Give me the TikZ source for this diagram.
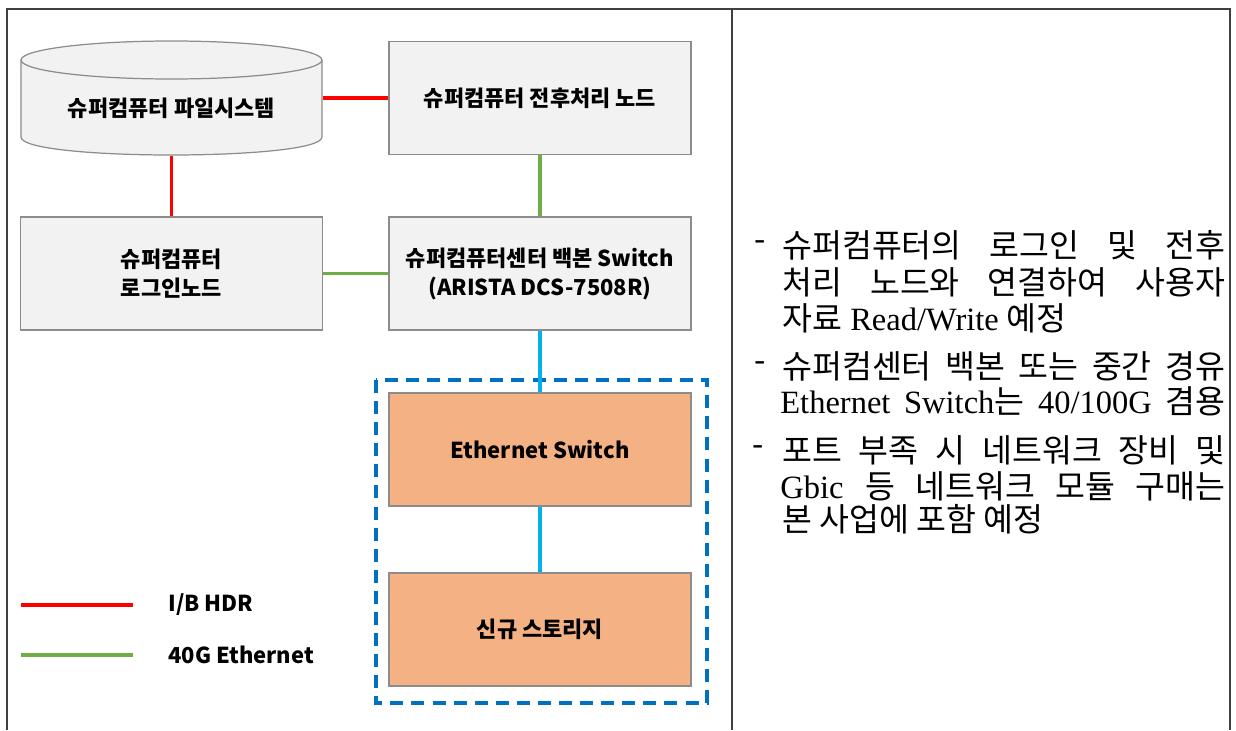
\documentclass[tikz,border=0pt]{standalone}
\usepackage{fontspec}
\setmainfont{Liberation Serif}
\newfontfamily\krsans{Noto Sans CJK KR}
\newfontfamily\krtext{Noto Sans CJK KR}
\usetikzlibrary{positioning}
\definecolor{boxgray}{HTML}{F2F2F2}
\definecolor{boxline}{HTML}{8C8C8C}
\definecolor{storeorange}{HTML}{F4B183}
\definecolor{ibred}{HTML}{FF0000}
\definecolor{ethgreen}{HTML}{70AD47}
\definecolor{linkblue}{HTML}{00B0F0}
\definecolor{groupblue}{HTML}{0070C0}
\definecolor{framegray}{HTML}{404040}
\newcommand{\kr}[1]{{\krtext #1}}
\tikzset{
  unit/.style={rectangle,draw=boxline,fill=boxgray,line width=0.7pt,minimum width=6.04cm,minimum height=2.26cm,inner sep=0pt,align=center,font=\krsans\bfseries\fontsize{12.5}{16.5}\selectfont},
  newunit/.style={unit,fill=storeorange},
  ib/.style={draw=ibred,line width=2pt},
  eth/.style={draw=ethgreen,line width=2pt},
  link/.style={draw=linkblue,line width=2pt},
  group/.style={draw=groupblue,line width=1.9pt,dash pattern=on 7.4pt off 4.6pt},
  frame/.style={draw=framegray,line width=1.1pt},
  legendtext/.style={anchor=west,inner sep=0pt,font=\krsans\bfseries\fontsize{12.5}{14}\selectfont},
  note/.style={anchor=west,inner sep=0pt,font=\fontsize{18.5}{20}\selectfont},
}

\begin{document}
\begin{tikzpicture}[x=0.02cm,y=-0.02cm]
\useasboundingbox (0,0) rectangle (1236,730);
% table frame
\draw[frame] (7,730) -- (7,9) -- (1230,9) -- (1230,730);
\draw[frame] (732,9) -- (732,730);
%
% file system drum
\fill[boxgray] (21,60) -- (21,137) .. controls (21,161) and (322,161) .. (322,137) -- (322,60) -- cycle;
\draw[boxline,line width=0.7pt] (21,60) -- (21,137) .. controls (21,161) and (322,161) .. (322,137) -- (322,60);
\draw[boxline,fill=boxgray,line width=0.7pt] (171.5,60) ellipse [x radius=150.5, y radius=19];
\node (fs) [unit,draw=none,fill=none,minimum height=1.88cm] at (171.5,108) {슈퍼컴퓨터 파일시스템};
%
\node (post) [unit] at (540,98) {슈퍼컴퓨터 전후처리 노드};
\node (login) [unit] at (171.5,273.5) {슈퍼컴퓨터\\로그인노드};
\node (backbone) [unit] at (540,273.5) {슈퍼컴퓨터센터 백본 Switch\\(ARISTA DCS-7508R)};
\node (ethsw) [newunit] at (540,449.5) {Ethernet Switch};
\node (storage) [newunit] at (540,629.5) {신규 스토리지};
\draw[group] (376,380) rectangle (707,703);
%
\path[ib] (post.west) edge (post.west -| fs.east);
\path[ib] (fs.south) edge (login.north);
\path[eth] (post.south) edge (backbone.north);
\path[eth] (login.east) edge (backbone.west);
\path[link] (backbone.south) edge (ethsw.north);
\path[link] (ethsw.south) edge (storage.north);
%
% legend
\coordinate (ibA) at (21,605);
\coordinate (ibB) at (133,605);
\coordinate (ethA) at (21,655);
\coordinate (ethB) at (133,655);
\path[ib] (ibA) edge (ibB);
\path[eth] (ethA) edge (ethB);
\node (ibtext) [legendtext] at (168,605) {I/B HDR};
\node (ethtext) [legendtext] at (168,655) {40G Ethernet};
%
% notes
\node (d1) [note] at (754,245) {-};
\node (n1) [note] at (782,245) {\makebox[8.86cm][s]{\kr{슈퍼컴퓨터의 로그인 및 전후}}};
\node (n2) [note] at (782,282) {\makebox[8.86cm][s]{\kr{처리 노드와 연결하여 사용자}}};
\node (n3) [note] at (782,318) {\kr{자료} Read/Write \kr{예정}};
\node (d2) [note] at (754,366) {-};
\node (n4) [note] at (782,366) {\makebox[8.86cm][s]{\kr{슈퍼컴센터 백본 또는 중간 경유}}};
\node (n5) [note] at (780,401) {\makebox[8.9cm][s]{Ethernet Switch\kr{는} 40/100G \kr{겸용}}};
\node (d3) [note] at (752,450) {-};
\node (n6) [note] at (782,450) {\makebox[8.86cm][s]{\kr{포트 부족 시 네트워크 장비 및}}};
\node (n7) [note] at (780,486) {\makebox[8.9cm][s]{Gbic \kr{등 네트워크 모듈 구매는}}};
\node (n8) [note] at (782,519) {\kr{본 사업에 포함 예정}};
\end{tikzpicture}
\end{document}
